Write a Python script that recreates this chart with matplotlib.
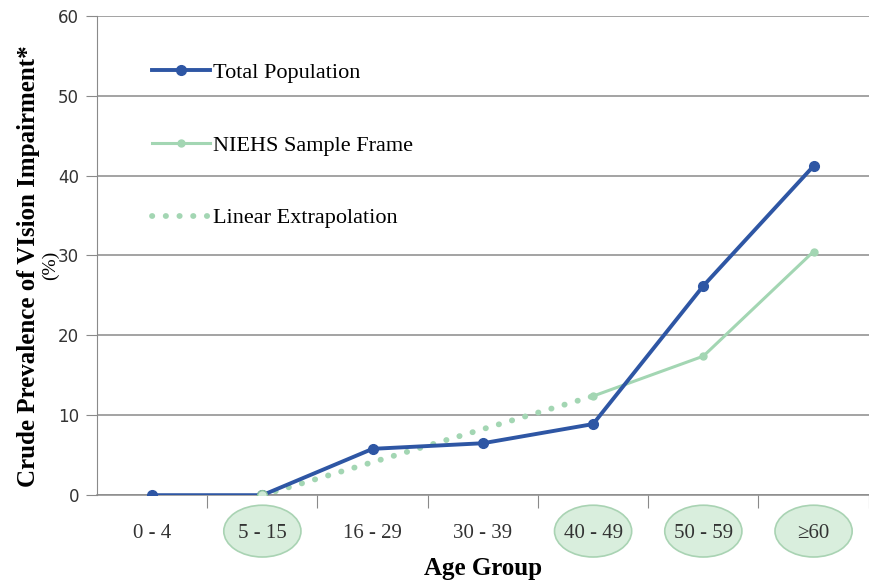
import matplotlib
matplotlib.use("Agg")
import matplotlib.pyplot as plt
from matplotlib.patches import Ellipse
from matplotlib.lines import Line2D
import matplotlib.transforms as mtransforms

age_groups = ["0 - 4", "5 - 15", "16 - 29", "30 - 39", "40 - 49", "50 - 59", "\u226560"]
total_pop = [0.0, 0.0, 5.8, 6.5, 8.9, 26.2, 41.2]
niehs_idx = [4, 5, 6]
niehs_vals = [12.4, 17.4, 30.5]
extrap_idx = [1, 4]
extrap_vals = [0.0, 12.4]
circled = [1, 4, 5, 6]

blue = "#2E56A4"
green = "#A3D6B3"
serif = ["Liberation Serif", "DejaVu Serif"]
dots = (0, (0.05, 2.3))

fig = plt.figure(figsize=(8.7, 5.86), dpi=100)
ax = fig.add_axes([0.1115, 0.155, 0.887, 0.818])

x = list(range(len(age_groups)))

ax.plot(extrap_idx, extrap_vals, linestyle=dots, color=green, lw=4.2,
        dash_capstyle="round", zorder=3)
ax.plot(niehs_idx, niehs_vals, color=green, lw=2.2, marker="o", ms=5, zorder=4)
ax.plot(x, total_pop, color=blue, lw=2.8, marker="o", ms=7, zorder=5)
ax.plot([1], [0], color="#cfe9d6", marker="o", ms=7, ls="none", zorder=6,
        markeredgecolor="#8cc39c")

ax.set_xlim(-0.5, len(age_groups) - 0.5)
ax.set_ylim(0, 60)
ax.set_yticks(range(0, 61, 10))
ax.yaxis.grid(True, color="#8a8a8a", lw=1.1)
ax.set_axisbelow(True)
for s in ["top", "right"]:
    ax.spines[s].set_visible(False)
ax.spines["left"].set_color("#8a8a8a")
ax.spines["bottom"].set_color("#8a8a8a")
ax.spines["bottom"].set_linewidth(1.1)

# tick marks at category boundaries, labels at centres
ax.set_xticks([i + 0.5 for i in range(len(age_groups))])
ax.set_xticklabels([])
ax.tick_params(axis="x", length=9, color="#8a8a8a", direction="out")
ax.tick_params(axis="y", length=8, color="#8a8a8a", labelsize=12, pad=5)
for lab in ax.get_yticklabels():
    lab.set_fontfamily(["DejaVu Sans"])
    lab.set_color("#333333")

trans = mtransforms.blended_transform_factory(ax.transData, ax.transAxes)
for i, name in enumerate(age_groups):
    if i in circled:
        e = Ellipse((i, -0.075), 0.70, 0.108, transform=trans, clip_on=False,
                    facecolor="#d9eedd", edgecolor="#a9d3b3", lw=1.2, zorder=1)
        ax.add_patch(e)
    ax.text(i, -0.081, name, transform=trans, ha="center", va="center",
            fontsize=15, family=serif, color="#333333", zorder=2)

ax.text(0.5, -0.152, "Age Group", transform=ax.transAxes, ha="center", va="center",
        fontsize=18, fontweight="bold", family=serif)
fig.text(0.033, 0.545, "Crude Prevalence of VIsion Impairment*", rotation=90,
         ha="center", va="center", fontsize=18, fontweight="bold", family=serif)
fig.text(0.058, 0.547, "(%)", rotation=90, ha="center", va="center",
         fontsize=14, family=serif)

handles = [
    Line2D([], [], color=blue, lw=2.8, marker="o", ms=7),
    Line2D([], [], color=green, lw=2.2, marker="o", ms=5),
    Line2D([], [], color=green, lw=4.2, linestyle=dots, dash_capstyle="round"),
]
labels = ["Total Population", "NIEHS Sample Frame", "Linear Extrapolation"]
leg = ax.legend(handles, labels, loc="upper left", bbox_to_anchor=(0.045, 0.945),
                frameon=False, labelspacing=2.35, handlelength=2.6, handletextpad=0.15,
                prop={"family": serif, "size": 16})

fig.savefig("out.png", dpi=100)
